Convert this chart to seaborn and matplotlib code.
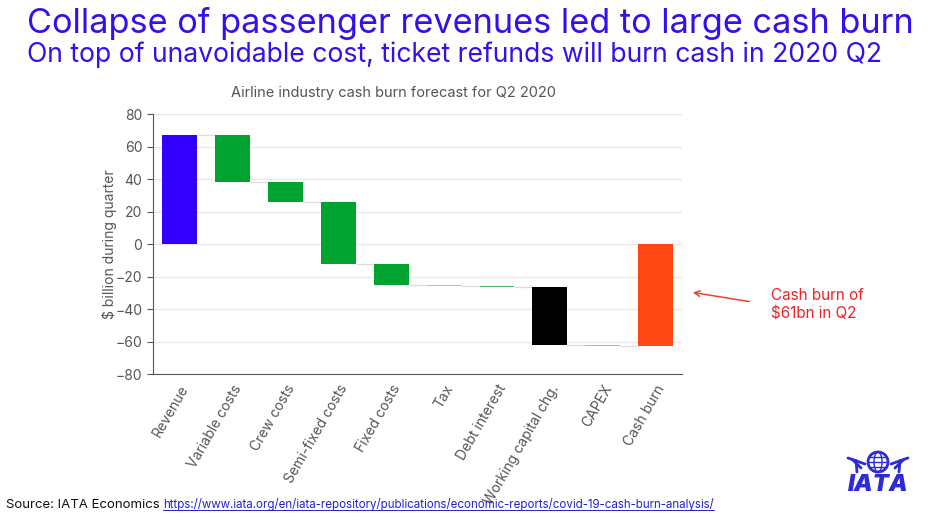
import numpy as np
import pandas as pd
import matplotlib
matplotlib.use("Agg")
import matplotlib.pyplot as plt
from matplotlib.patches import Ellipse
import seaborn as sns

# data ($bn, Q2 2020)
categories = ["Revenue", "Variable costs", "Crew costs", "Semi-fixed costs", "Fixed costs",
              "Tax", "Debt interest", "Working capital chg.", "CAPEX", "Cash burn"]
changes = [67.0, -29.0, -12.0, -38.0, -13.0, -0.6, -0.6, -35.8, -0.5]
bar_colors = ["#3300FF", "#00A330", "#00A330", "#00A330", "#00A330",
              "#8FD4A2", "#3FB868", "#000000", "#A8A8FF", "#FF4713"]

# waterfall: each step floats on the running total, last bar is the total
ends = np.cumsum(changes)
starts = np.concatenate([[0], ends[:-1]])
heights = list(changes) + [ends[-1]]
bottoms = list(starts) + [0.0]
df = pd.DataFrame({"item": categories, "height": heights, "bottom": bottoms})

sns.set_style("white")
plt.rcParams["font.family"] = ["Inter", "DejaVu Sans"]

fig = plt.figure(figsize=(9.49, 5.21), dpi=100)
ax = fig.add_axes([0.161, 0.282, 0.558, 0.499])

sns.barplot(data=df, x="item", y="height", bottom=df["bottom"].values,
            width=0.66, color="#00A330", ax=ax, zorder=3)
for patch, c in zip(ax.patches, bar_colors):
    patch.set_facecolor(c)
    patch.set_edgecolor("none")

# connector lines between bars
for i, level in enumerate(ends):
    ax.hlines(level, i + 0.33, i + 0.67, color="#dddddd", lw=0.9, zorder=2)

ax.set_ylim(-80, 80)
ax.set_xlim(-0.5, len(categories) - 0.5)
ax.set_yticks(range(-80, 81, 20))
ax.yaxis.grid(True, color="#e8e8e8", lw=1)
ax.set_axisbelow(True)
for s in ["top", "right"]:
    ax.spines[s].set_visible(False)
for s in ["left", "bottom"]:
    ax.spines[s].set_color("#555555")
    ax.spines[s].set_linewidth(0.8)

ax.set_xticks(np.arange(len(categories)))
ax.set_xticklabels(categories, rotation=60, ha="right", rotation_mode="anchor",
                   fontsize=10, color="#555555")
ax.set_xticks(np.arange(len(categories)) + 0.5, minor=True)
ax.tick_params(axis="x", which="major", length=0, pad=6)
ax.tick_params(axis="x", which="minor", length=4, color="#555555", direction="out")
ax.tick_params(axis="y", length=4, color="#555555", labelsize=10, labelcolor="#555555",
               left=True, direction="out")
ax.set_xlabel("")
ax.set_ylabel("\\$ billion during quarter", fontsize=10, color="#555555", labelpad=-1)
ax.set_title("Airline industry cash burn forecast for Q2 2020", fontsize=10.5,
             color="#555555", pad=12, x=0.454)

title_blue = "#3311EE"
fig.text(0.028, 0.955, "Collapse of passenger revenues led to large cash burn",
         fontsize=24.7, color=title_blue, va="center", ha="left")
fig.text(0.028, 0.895, "On top of unavoidable cost, ticket refunds will burn cash in 2020 Q2",
         fontsize=19.1, color=title_blue, va="center", ha="left")

# annotation for the cash burn bar
fig.text(0.812, 0.415, "Cash burn of\n\\$61bn in Q2", fontsize=11, color="#EE2222",
         ha="left", va="center", linespacing=1.3)
ax.annotate("", xy=(690 / 949, 1 - 292 / 521), xycoords="figure fraction",
            xytext=(752 / 949, 1 - 302 / 521), textcoords="figure fraction",
            arrowprops=dict(arrowstyle="->", color="#EE4422", lw=1.1))

# source line
src = fig.text(0.006, 0.02, "Source: IATA Economics ", fontsize=9.5, color="#111111",
               ha="left", va="bottom")
fig.canvas.draw()
bb = src.get_window_extent()
link = fig.text(bb.x1 / fig.bbox.width, 0.02,
                "https://www.iata.org/en/iata-repository/publications/economic-reports/covid-19-cash-burn-analysis/",
                fontsize=8.3, color="#2222CC", ha="left", va="bottom")
fig.canvas.draw()
lb = link.get_window_extent()
fig.add_artist(plt.Line2D([lb.x0 / fig.bbox.width, lb.x1 / fig.bbox.width],
                          [lb.y0 / fig.bbox.height + 0.002] * 2, color="#2222CC", lw=0.7,
                          transform=fig.transFigure))

# IATA logo (simple)
logo = "#2B2BD9"
lx, ly = 878 / 949, 1 - 462 / 521
fig.add_artist(Ellipse((lx, ly), 20 / 949, 20 / 521, transform=fig.transFigure,
                       facecolor="white", edgecolor=logo, lw=2))
for dy in (-5, 0, 5):
    fig.add_artist(plt.Line2D([lx - 9 / 949, lx + 9 / 949], [ly + dy / 521] * 2,
                              color=logo, lw=1, transform=fig.transFigure))
fig.add_artist(Ellipse((lx, ly), 8 / 949, 20 / 521, transform=fig.transFigure,
                       facecolor="none", edgecolor=logo, lw=1))
for k in range(3):
    off = k * 4
    fig.add_artist(plt.Line2D([lx - 13 / 949 - off / 949, lx - 30 / 949 + off / 949],
                              [ly - (2 + off) / 521, ly + (4 - off * 0.3) / 521],
                              color=logo, lw=2, transform=fig.transFigure))
    fig.add_artist(plt.Line2D([lx + 13 / 949 + off / 949, lx + 30 / 949 - off / 949],
                              [ly - (2 + off) / 521, ly + (4 - off * 0.3) / 521],
                              color=logo, lw=2, transform=fig.transFigure))
fig.text(lx, 1 - 485 / 521, "IATA", fontsize=17, fontweight="black", fontstyle="italic",
         color=logo, ha="center", va="center")

fig.savefig("out.png", dpi=100, facecolor="white")
